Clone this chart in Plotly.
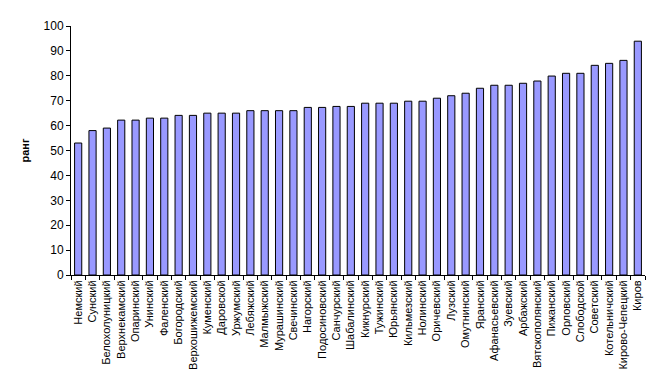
import plotly.graph_objects as go

districts = ["Немский", "Сунский", "Белохолуницкий", "Верхнекамский", "Опаринский", "Унинский",
             "Фаленский", "Богородский", "Верхошижемский", "Куменский", "Даровской", "Уржумский",
             "Лебяжский", "Малмыжский", "Мурашинский", "Свечинский", "Нагорский", "Подосиновский",
             "Санчурский", "Шабалинский", "Кикнурский", "Тужинский", "Юрьянский", "Кильмезский",
             "Нолинский", "Оричевский", "Лузский", "Омутнинский", "Яранский", "Афанасьевский",
             "Зуевский", "Арбажский", "Вятскополянский", "Пижанский", "Орловский", "Слободской",
             "Советский", "Котельничский", "Кирово-Чепецкий", "Киров"]
rank = [53, 58, 59, 62.2, 62.2, 63, 63, 64.1, 64.1, 65, 65, 65,
        66, 66, 66, 66, 67.3, 67.3, 67.7, 67.7, 69, 69, 69, 69.8,
        69.8, 71, 72, 73, 75, 76.2, 76.2, 77, 77.9, 79.9, 81, 81,
        84.2, 85, 86.2, 93.9]
y_ticks = list(range(0, 101, 10))

fig = go.Figure(go.Bar(
    x=districts, y=rank, width=0.5,
    marker=dict(color="#9999FF", line=dict(color="black", width=1)),
))
fig.update_layout(
    width=662, height=387,
    margin=dict(l=71, r=17, t=26, b=112, autoexpand=False),
    paper_bgcolor="white", plot_bgcolor="white",
    font=dict(family="Liberation Sans, Arial", size=12, color="black"),
    showlegend=False, bargap=0.5,
)
fig.update_yaxes(
    range=[0, 100], tickvals=y_ticks, showgrid=False, zeroline=False,
    showline=True, linecolor="black", linewidth=1, automargin=False,
    ticks="outside", ticklen=4, tickcolor="black",
    title=dict(text="<b>ранг</b>", font=dict(size=11), standoff=11),
    tickfont=dict(size=12),
)
fig.update_xaxes(
    showgrid=False, showline=True, linecolor="black", linewidth=1, automargin=False,
    ticks="outside", ticklen=4, tickcolor="black", tickson="boundaries",
    tickangle=-90, tickfont=dict(size=11),
)
fig.write_html("out.html", config={"displayModeBar": False},
               post_script="document.body.style.margin='0px';")
